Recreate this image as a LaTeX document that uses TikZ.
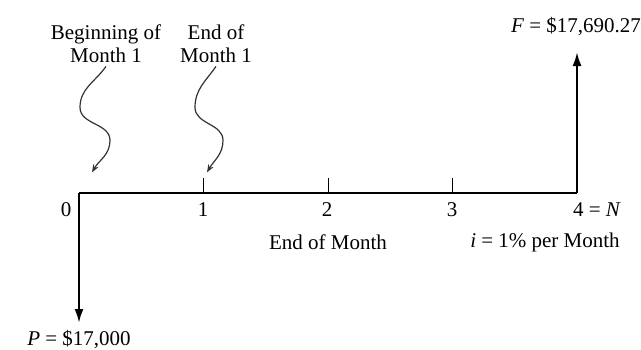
\documentclass[tikz,border=0pt]{standalone}
\usepackage{fontspec}
\setmainfont{Liberation Serif}
\usetikzlibrary{arrows.meta,positioning}

\begin{document}
\begin{tikzpicture}[
  x=0.5pt,y=0.5pt,
  lbl/.style={font=\fontsize{10.5}{11.5}\selectfont,inner sep=0pt,align=center},
  axis/.style={line width=1.1pt},
  tick/.style={line width=0.5pt},
  cash/.style={-{Latex[length=7pt,width=4.5pt]},line width=1.1pt},
  squig/.style={-{Stealth[length=4pt,width=3pt]},line width=0.6pt,draw=black!80}
]
\useasboundingbox (0,0) rectangle (641,349);

% time axis
\foreach \k in {0,...,4}
  \coordinate (t\k) at ({79+124.5*\k},156);
\draw[axis] (t0) -- (t4);
\foreach \k in {1,2,3}
  \draw[tick] (t\k) -- ++(0,15);

% period numbers
\node[lbl] (n0) at (66,139) {0};
\node[lbl] (n1) at (203,139) {1};
\node[lbl] (n2) at (327,139) {2};
\node[lbl] (n3) at (452,139) {3};
\node[lbl] (n4) at (597,139) {4 = \textit{N}};
\node[lbl] (eom) at (328,107) {End of Month};
\node[lbl] (rate) at (545,107) {\textit{i} = 1\% per Month};

% cash flows
\coordinate (pend) at (79,26);
\coordinate (fend) at (577,297);
\node[lbl] (P) at (79,9) {\textit{P} = \$17,000};
\node[lbl] (F) at (576,322) {\textit{F} = \$17,690.27};
\draw[cash] (t0) -- (pend);
\draw[cash] (t4) -- (fend);

% callouts
\node[lbl] (beg) at (106,305) {Beginning of\\Month 1};
\node[lbl] (end1) at (216,305) {End of\\Month 1};
\draw[squig] ([yshift=-1.5pt]beg.south) to[out=-125,in=90] ++(-26,-41)
  to[out=-90,in=90] ++(30,-33) to[out=-90,in=60] ++(-18,-32);
\draw[squig] ([yshift=-1.5pt]end1.south) to[out=-125,in=90] ++(-21,-41)
  to[out=-90,in=90] ++(28,-33) to[out=-90,in=60] ++(-16,-32);
\end{tikzpicture}
\end{document}
